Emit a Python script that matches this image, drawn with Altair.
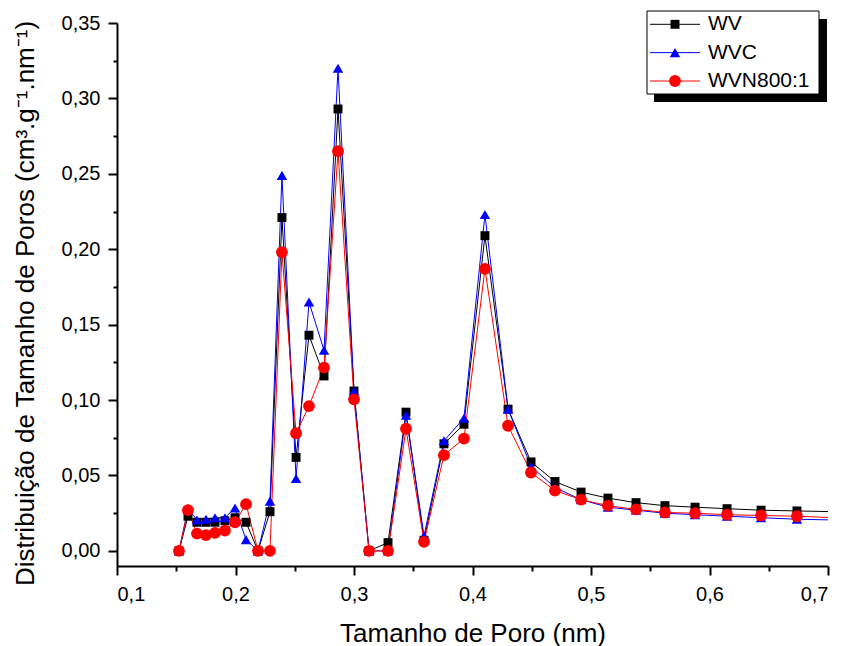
import altair as alt
import pandas as pd

# Pore size (nm) — shared x positions for all series
x_nm = [0.1523, 0.1599, 0.1675, 0.1751, 0.1827, 0.1911, 0.1996, 0.2089, 0.2190, 0.2291,
        0.2392, 0.2511, 0.2620, 0.2747, 0.2865, 0.3000, 0.3127, 0.3287, 0.3439, 0.3591,
        0.3759, 0.3928, 0.4105, 0.4300, 0.4494, 0.4696, 0.4916, 0.5143, 0.5380, 0.5624,
        0.5878, 0.6148, 0.6435, 0.6738, 0.7059]

wv = [0, 0.023, 0.019, 0.019, 0.019, 0.020, 0.022, 0.019, 0, 0.026,
      0.221, 0.062, 0.143, 0.116, 0.293, 0.106, 0, 0.0055, 0.092, 0.007,
      0.071, 0.084, 0.209, 0.094, 0.059, 0.046, 0.039, 0.035, 0.032, 0.030,
      0.029, 0.028, 0.027, 0.0265, 0.026]

wvc = [0, 0.028, 0.0205, 0.021, 0.022, 0.022, 0.0285, 0.0075, 0, 0.033,
       0.249, 0.048, 0.165, 0.133, 0.320, 0.106, 0, 0, 0.090, 0.010,
       0.073, 0.088, 0.223, 0.094, 0.056, 0.042, 0.034, 0.029, 0.027, 0.025,
       0.024, 0.023, 0.022, 0.021, 0.0205]

wvn = [0, 0.027, 0.0115, 0.0105, 0.012, 0.0135, 0.019, 0.031, 0, 0,
       0.198, 0.078, 0.096, 0.1215, 0.265, 0.1005, 0, 0, 0.081, 0.006,
       0.0635, 0.0745, 0.187, 0.083, 0.052, 0.040, 0.034, 0.030, 0.0275, 0.0255,
       0.025, 0.024, 0.0235, 0.023, 0.022]

series_names = ["WV", "WVC", "WVN800:1"]
series_colors = ["#000000", "#0000FF", "#FF0000"]
series_shapes = ["square", "triangle-up", "circle"]
series_sizes = [80, 140, 95]

x_ticks = [0.1, 0.15, 0.2, 0.25, 0.3, 0.35, 0.4, 0.45, 0.5, 0.55, 0.6, 0.65, 0.7]
y_ticks = [0, 0.025, 0.05, 0.075, 0.1, 0.125, 0.15, 0.175, 0.2, 0.225, 0.25, 0.275, 0.3, 0.325, 0.35]

rows = []
for name, vals in zip(series_names, [wv, wvc, wvn]):
    for i, (xv, yv) in enumerate(zip(x_nm, vals)):
        rows.append({"poro": xv, "dist": yv, "series": name, "ord": i})
df = pd.DataFrame(rows)

FONT = "Liberation Sans"

color = alt.Color("series:N", scale=alt.Scale(domain=series_names, range=series_colors), legend=None)
shape = alt.Shape("series:N", scale=alt.Scale(domain=series_names, range=series_shapes), legend=None)
sizeenc = alt.Size("series:N", scale=alt.Scale(domain=series_names, range=series_sizes), legend=None)

x_enc = alt.X(
    "poro:Q",
    scale=alt.Scale(domain=[0.1, 0.7], nice=False, zero=False),
    axis=alt.Axis(
        values=x_ticks,
        labelExpr="round(datum.value*20) % 2 == 0 ? replace(format(datum.value, '.1f'), '.', ',') : ''",
        tickSize={"condition": {"test": "round(datum.value*20) % 2 == 0", "value": 9}, "value": 5},
        labelPadding=9,
        title="Tamanho de Poro (nm)",
        titleY=75,
        titleBaseline="alphabetic",
    ),
)
y_enc = alt.Y(
    "dist:Q",
    scale=alt.Scale(domain=[-0.01, 0.35], nice=False, zero=False),
    axis=alt.Axis(
        values=y_ticks,
        labelExpr="round(datum.value*40) % 2 == 0 ? replace(format(datum.value, '.2f'), '.', ',') : ''",
        tickSize={"condition": {"test": "round(datum.value*40) % 2 == 0", "value": 9}, "value": 4},
        labelPadding=8,
        title="Distribuição de Tamanho de Poros (cm³.g⁻¹.nm⁻¹)",
        titleX=-84,
        titleY=280,
        titleAngle=270,
        titleAlign="center",
        titleBaseline="alphabetic",
    ),
)

lines = alt.Chart(df).mark_line(strokeWidth=1, clip=True).encode(
    x=x_enc, y=y_enc, color=color, order="ord:Q"
)
points = alt.Chart(df).mark_point(filled=True, opacity=1, clip=True).encode(
    x=x_enc, y=y_enc, color=color, shape=shape, size=sizeenc
)
data_layer = alt.layer(lines, points)

# Legend (drawn as layers)
leg_df = pd.DataFrame({"series": series_names})
box_df = pd.DataFrame({"k": [0]})
leg_y = alt.Y("series:N", scale=alt.Scale(type="point", domain=series_names, range=[1.3, 58], padding=0), axis=None)

shadow = alt.Chart(box_df).mark_rect(color="black").encode(
    x=alt.value(537), x2=alt.value(710), y=alt.value(-4), y2=alt.value(79)
)
box = alt.Chart(box_df).mark_rect(fill="white", stroke="black", strokeWidth=1).encode(
    x=alt.value(530), x2=alt.value(702), y=alt.value(-12), y2=alt.value(71)
)
leg_lines = alt.Chart(leg_df).mark_rule(strokeWidth=1).encode(
    y=leg_y, x=alt.value(533), x2=alt.value(583), color=color
)
leg_pts = alt.Chart(leg_df).mark_point(filled=True, opacity=1).encode(
    y=leg_y, x=alt.value(558), color=color, shape=shape, size=sizeenc
)
leg_txt = alt.Chart(leg_df).mark_text(align="left", baseline="middle", fontSize=21, font=FONT, color="black").encode(
    y=leg_y, x=alt.value(591), text="series:N"
)
legend_layer = alt.layer(shadow, box, leg_lines, leg_pts, leg_txt)

chart = (
    alt.layer(data_layer, legend_layer)
    .resolve_scale(y="independent")
    .properties(
        width=711,
        height=543,
        padding={"left": 109, "top": 15, "right": 7, "bottom": 80},
        autosize=alt.AutoSizeParams(type="none"),
        background="white",
    )
    .configure_view(stroke=None)
    .configure_axis(
        labelFont=FONT,
        titleFont=FONT,
        labelFontSize=20,
        titleFontSize=26,
        titleFontWeight="normal",
        labelColor="black",
        titleColor="black",
        domainColor="black",
        tickColor="black",
        domainWidth=2,
        tickWidth=2,
        grid=False,
    )
)

chart.save("out.html", embed_options={"renderer": "svg", "actions": False})
